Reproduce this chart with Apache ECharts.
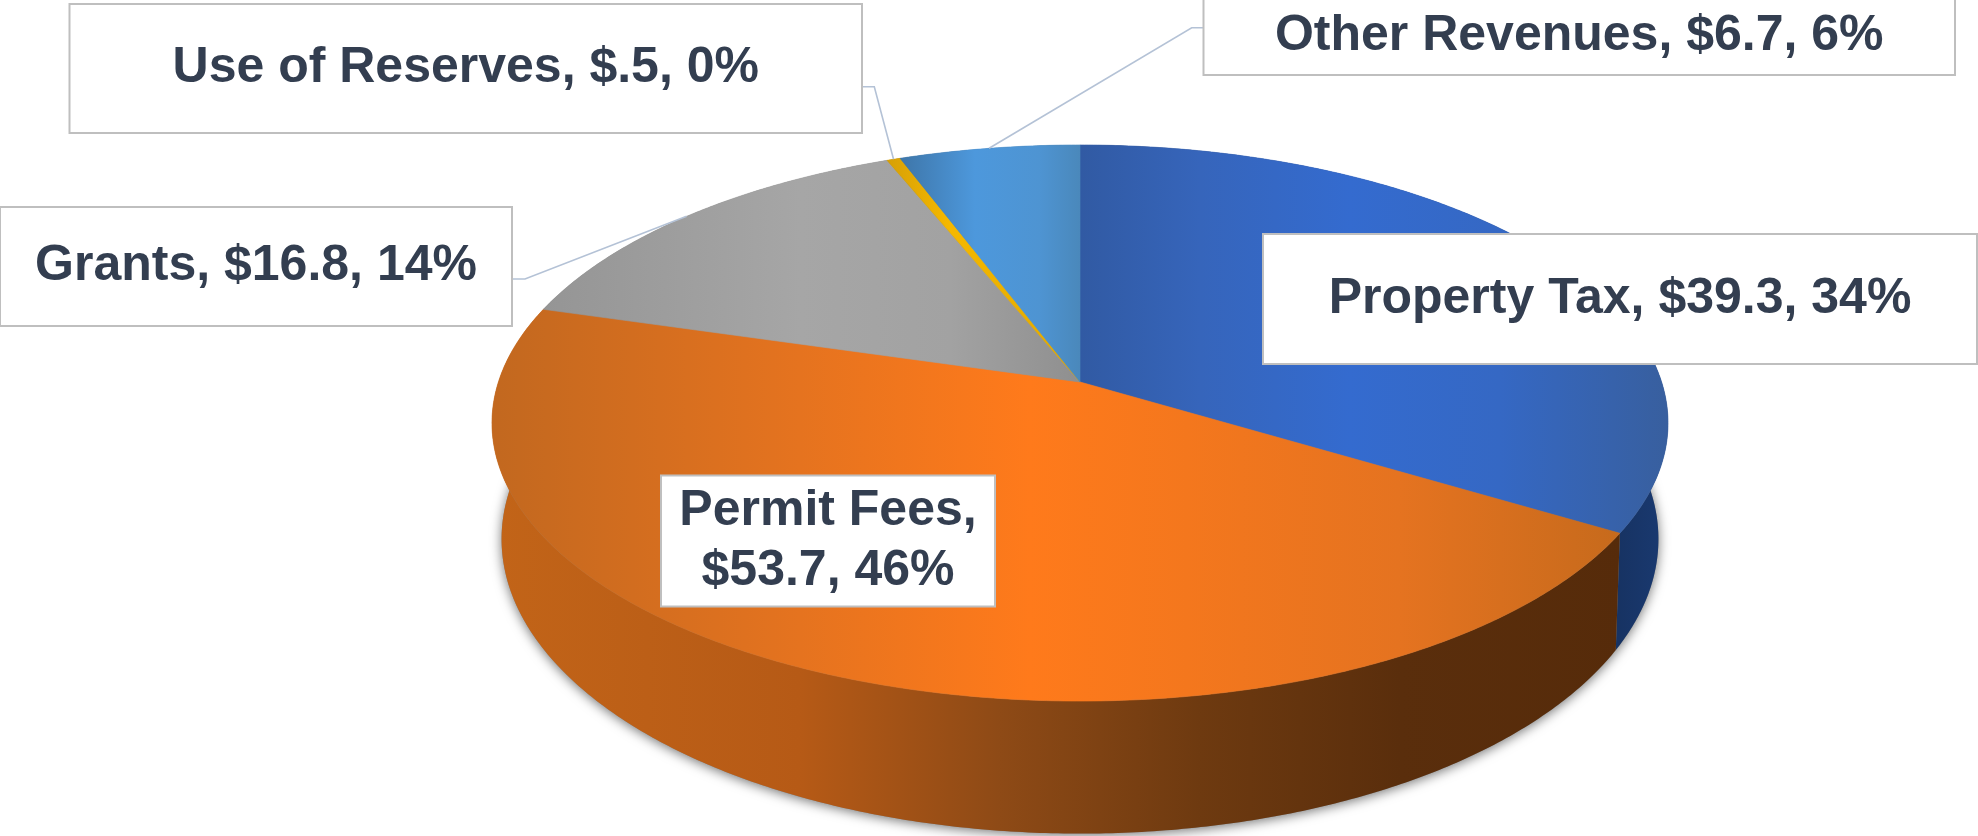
<!DOCTYPE html>
<html><head><meta charset="utf-8">
<style>html,body{margin:0;padding:0;background:#fff;overflow:hidden}#c{width:1978px;height:836px}</style>
<script src="https://cdn.jsdelivr.net/npm/echarts@6/dist/echarts.min.js"></script>
</head><body><div id="c"></div>
<script>
// ---- data ----
const categories = ['Property Tax', 'Permit Fees', 'Grants', 'Use of Reserves', 'Other Revenues'];
const revenues = [39.3, 53.7, 16.8, 0.5, 6.7];

// ---- styles: horizontal shading stops [x, colour] of every top face ----
const topShades = [
  [[1080,'#315aa3'],[1200,'#3665bb'],[1350,'#346bcf'],[1500,'#3568c4'],[1670,'#385f9e']],
  [[492,'#c2681f'],[800,'#e5731f'],[1030,'#ff7a1b'],[1400,'#e57320'],[1625,'#c66a1c']],
  [[545,'#959595'],[800,'#a6a6a6'],[950,'#a2a2a2'],[1080,'#8f8f8f']],
  [[890,'#d8a106'],[950,'#f5b800'],[1080,'#e0a800']],
  [[905,'#3f78ac'],[975,'#4d98dc'],[1040,'#4e94d2'],[1080,'#4a88bb']]
];
const wallShades = [
  [[1605,'#16315f'],[1670,'#1a3a72']],
  [[495,'#c26418'],[800,'#b65a16'],[1000,'#8e4a16'],[1200,'#6e3a10'],[1400,'#5a2e0c'],[1625,'#562b0a']],
  [[492,'#777777'],[1080,'#777777']],
  [[890,'#8a6a00'],[1080,'#8a6a00']],
  [[905,'#2c5a80'],[1080,'#2c5a80']]
];
// ---- layout of the label boxes: [x, y, width, height], leader start and elbow ----
const labelBoxes = [
  {box:[1263,234,714,130]},
  {box:[661,475.5,334,131], wrap:true},
  {box:[0,207,512,119], from:[512,279], elbow:[525,279]},
  {box:[69.5,4,792.5,129], from:[862,86.7], elbow:[874.3,86.7]},
  {box:[1203.5,-2,751.5,77], from:[1203.5,27.7], elbow:[1191.7,27.7]}
];
const textColor = '#333e50', boxLine = '#bfbfbf', leaderColor = '#b4c2d6';
const labelFont = 'bold 50px "Liberation Sans", Arial, sans-serif';
// perspective of the upper and lower disc of the pie
const upper = {cx:1080, cy:382, a:581.6, b:272, p:0.1475};
const lower = {cx:1080, cy:489, a:570, b:286, p:0.17};

// ---- derived from the data ----
const total = revenues.reduce((s, v) => s + v, 0);
const starts = revenues.map((_, i) => revenues.slice(0, i).reduce((s, v) => s + v, 0) / total);
const TAU = Math.PI * 2;

function project(disc, frac) {
  const t = frac * TAU, u = Math.sin(t), v = -Math.cos(t), w = 1 - disc.p * v;
  return [disc.cx + disc.a * u / w, disc.cy + disc.b * v / w];
}
function arc(disc, f0, f1) {
  const n = Math.max(2, Math.ceil((f1 - f0) * 720)), pts = [];
  for (let i = 0; i <= n; i++) pts.push(project(disc, f0 + (f1 - f0) * i / n));
  return pts;
}
function shade(stops) {
  const x0 = stops[0][0], x1 = stops[stops.length - 1][0];
  return new echarts.graphic.LinearGradient(x0, 0, x1, 0,
    stops.map(s => ({offset: (s[0] - x0) / (x1 - x0), color: s[1]})), true);
}
function labelText(i, value) {
  const money = '$' + String(value).replace(/^0\./, '.');
  const pct = Math.round(value / total * 100) + '%';
  return categories[i] + ',' + (labelBoxes[i].wrap ? '\n' : ' ') + money + ', ' + pct;
}
const seriesData = categories.map((name, i) => ({name, value: revenues[i]}));

const option = {
  animation: false,
  backgroundColor: '#ffffff',
  series: [
    { // drop shadow of the lower rim
      type: 'custom', coordinateSystem: 'none', silent: true, z: 1,
      data: [{name: 'shadow', value: total}],
      renderItem: () => ({
        type: 'polygon',
        shape: {points: arc(lower, 0, 1)},
        style: {fill: '#888888', shadowBlur: 12, shadowColor: 'rgba(0,0,0,0.55)', shadowOffsetX: 0, shadowOffsetY: 2}
      })
    },
    { // side walls
      type: 'custom', coordinateSystem: 'none', silent: true, z: 2,
      data: seriesData,
      renderItem: (params, api) => {
        const i = params.dataIndex, f0 = starts[i], f1 = f0 + api.value(0) / total;
        return {
          type: 'polygon',
          shape: {points: arc(upper, f0, f1).concat(arc(lower, f0, f1).reverse())},
          style: {fill: shade(wallShades[i])}
        };
      }
    },
    { // top faces
      type: 'custom', coordinateSystem: 'none', silent: true, z: 3,
      data: seriesData,
      renderItem: (params, api) => {
        const i = params.dataIndex, f0 = starts[i], f1 = f0 + api.value(0) / total;
        const fill = shade(topShades[i]);
        return {
          type: 'polygon',
          shape: {points: [[upper.cx, upper.cy]].concat(arc(upper, f0, f1))},
          style: {fill, stroke: fill, lineWidth: 0.6}
        };
      }
    },
    { // leader lines and label boxes
      type: 'custom', coordinateSystem: 'none', silent: true, z: 4,
      data: seriesData,
      renderItem: (params, api) => {
        const i = params.dataIndex, value = api.value(0), L = labelBoxes[i], b = L.box;
        const children = [];
        if (L.from) {
          children.push({
            type: 'polyline',
            shape: {points: [L.from, L.elbow, project(upper, starts[i] + value / total / 2)]},
            style: {fill: null, stroke: leaderColor, lineWidth: 1.6}
          });
        }
        children.push({
          type: 'rect',
          shape: {x: b[0], y: b[1], width: b[2], height: b[3]},
          style: {fill: '#ffffff', stroke: boxLine, lineWidth: 2}
        });
        children.push({
          type: 'text',
          style: {
            x: b[0] + b[2] / 2, y: b[1] + b[3] / 2,
            text: labelText(i, value), font: labelFont, fill: textColor,
            align: 'center', verticalAlign: 'middle', lineHeight: 60
          }
        });
        return {type: 'group', children};
      }
    }
  ]
};
const chart = echarts.init(document.getElementById('c'), null, {renderer: 'canvas'});
chart.setOption(option);
</script></body></html>
